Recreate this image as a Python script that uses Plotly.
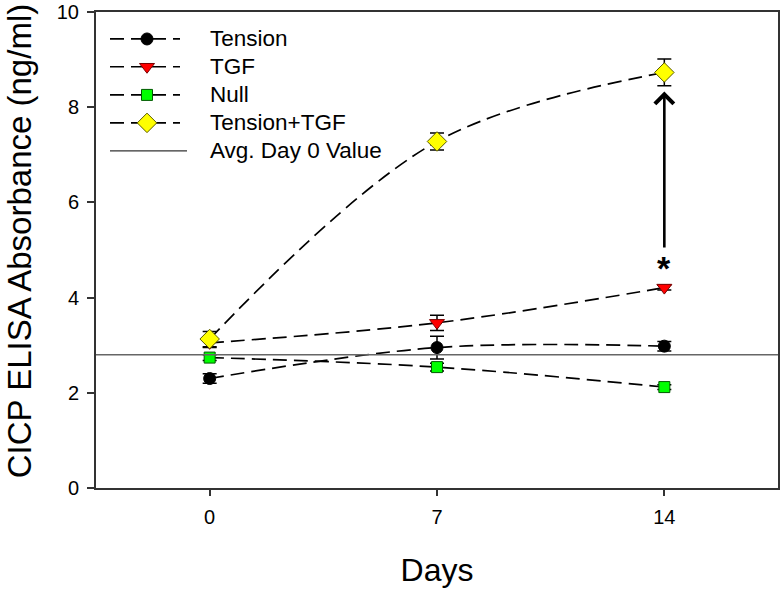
import plotly.graph_objects as go

days = [0, 7, 14]

tension = [2.30, 2.95, 2.98]
tension_err = [0.10, 0.24, 0.10]

tgf = [3.05, 3.47, 4.21]
tgf_err = [0.10, 0.16, 0.05]

null = [2.74, 2.54, 2.12]
null_err = [0.06, 0.08, 0.05]

tension_tgf = [3.13, 7.28, 8.73]
tension_tgf_err = [0.16, 0.18, 0.28]

avg_day0 = 2.8
x_range = [-3.5, 17.5]
y_range = [0, 10]
x_ticks = [0, 7, 14]
y_ticks = [0, 2, 4, 6, 8, 10]

arrow_from = 5.02
arrow_to = 8.33
star_y = 4.74

FONT = "Liberation Sans, Arial, sans-serif"
DASH = "14px,7px"

# plot area in pixels
W, H = 784, 591
L, R, T, B = 96, 778, 12, 488.5

series = [
    ("Tension", tension, tension_err, "circle", 12, "#000000", "#000000"),
    ("TGF", tgf, tgf_err, "triangle-down", 13, "#ff0000", "#7a0000"),
    ("Null", null, null_err, "square", 11, "#00ff00", "#005a00"),
    ("Tension+TGF", tension_tgf, tension_tgf_err, "diamond", 15, "#ffff00", "#5a5a00"),
]

fig = go.Figure()
for name, vals, errs, sym, size, fill, edge in series:
    fig.add_trace(go.Scatter(
        x=days, y=vals, name=name, mode="lines+markers", showlegend=False,
        line=dict(color="black", width=1.7, dash=DASH, shape="spline", smoothing=1.0),
        marker=dict(symbol=sym, size=size, color=fill, line=dict(color=edge, width=1)),
        error_y=dict(type="data", array=errs, visible=True, color="black", thickness=1.5, width=7),
    ))

fig.add_trace(go.Scatter(
    x=x_range, y=[avg_day0, avg_day0], name="Avg. Day 0 Value", mode="lines", showlegend=False,
    line=dict(color="#666666", width=1.4),
))

# ---- legend drawn on an overlay axis in pixel units ----
leg_x0, leg_x1, leg_mid, leg_text_x = 110, 180, 147, 208
leg_rows = [39, 66.8, 95, 123, 151]
for (name, vals, errs, sym, size, fill, edge), ry in zip(series, leg_rows):
    fig.add_trace(go.Scatter(
        x=[leg_x0, leg_mid, leg_x1], y=[ry, ry, ry], xaxis="x2", yaxis="y2",
        mode="lines", showlegend=False, hoverinfo="skip",
        line=dict(color="black", width=1.7, dash=DASH),
    ))
    fig.add_trace(go.Scatter(
        x=[leg_mid], y=[ry], xaxis="x2", yaxis="y2", mode="markers", showlegend=False,
        hoverinfo="skip",
        marker=dict(symbol=sym, size=size, color=fill, line=dict(color=edge, width=1)),
    ))
    fig.add_annotation(x=leg_text_x, y=ry, xref="x2", yref="y2", text=name, showarrow=False,
                       xanchor="left", yanchor="middle",
                       font=dict(family=FONT, size=22.5, color="black"))
fig.add_trace(go.Scatter(
    x=[leg_x0, leg_x1 + 7], y=[leg_rows[4], leg_rows[4]], xaxis="x2", yaxis="y2",
    mode="lines", showlegend=False, hoverinfo="skip",
    line=dict(color="#333333", width=1.2),
))
fig.add_annotation(x=leg_text_x, y=leg_rows[4], xref="x2", yref="y2", text="Avg. Day 0 Value",
                   showarrow=False, xanchor="left", yanchor="middle",
                   font=dict(family=FONT, size=22.5, color="black"))

fig.add_annotation(
    x=14, y=arrow_to, ax=14, ay=arrow_from, xref="x", yref="y", axref="x", ayref="y",
    showarrow=True, arrowhead=4, arrowsize=1.4, arrowwidth=2.6, arrowcolor="black", text="",
)
fig.add_annotation(
    x=14, y=star_y, xref="x", yref="y", text="<b>*</b>", showarrow=False,
    font=dict(family=FONT, size=34, color="black"), yshift=-6,
)

# y title as rotated text
fig.add_annotation(
    x=(19 - L) / (R - L), y=(B - 241.5) / (B - T), xref="paper", yref="paper",
    text="CICP ELISA Absorbance (ng/ml)", textangle=-90, showarrow=False,
    xanchor="center", yanchor="middle",
    font=dict(family=FONT, size=33, color="black"),
)

fig.update_layout(
    width=W, height=H,
    margin=dict(l=L, r=W - R, t=T, b=H - B),
    paper_bgcolor="white", plot_bgcolor="white",
    font=dict(family=FONT, color="black"),
    showlegend=False,
    xaxis=dict(
        range=x_range, tickvals=x_ticks, ticktext=[str(t) for t in x_ticks],
        ticks="outside", ticklen=6, tickwidth=1.5, tickcolor="#333",
        showline=True, linecolor="#333", linewidth=2, mirror=True,
        showgrid=False, zeroline=False, automargin=False,
        tickfont=dict(family=FONT, size=20, color="black"), ticklabelstandoff=4,
        title=dict(text="Days", font=dict(family=FONT, size=32, color="black"), standoff=32),
    ),
    yaxis=dict(
        range=y_range, tickvals=y_ticks, ticktext=[str(t) for t in y_ticks],
        ticks="outside", ticklen=7, tickwidth=1.5, tickcolor="#333",
        showline=True, linecolor="#333", linewidth=2, mirror=True,
        showgrid=False, zeroline=False, automargin=False,
        tickfont=dict(family=FONT, size=20, color="black"), ticklabelstandoff=4,
    ),
    xaxis2=dict(range=[L, R], overlaying="x", anchor="y2", visible=False, fixedrange=True),
    yaxis2=dict(range=[B, T], overlaying="y", anchor="x2", visible=False, fixedrange=True),
)

fig.write_html("out.html", config={"displayModeBar": False},
               post_script="document.body.style.margin='0px';document.body.style.overflow='hidden';")
